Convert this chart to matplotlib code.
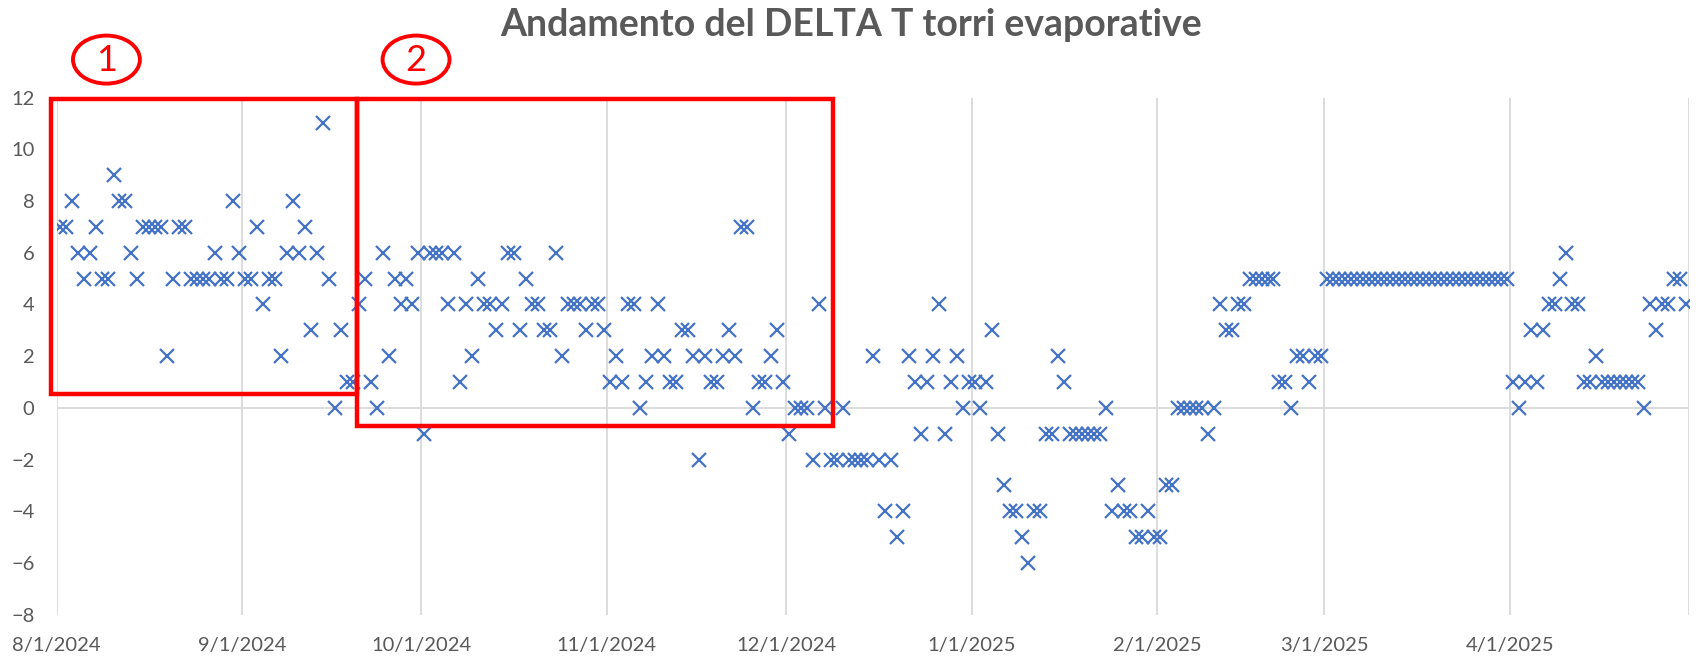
import matplotlib
matplotlib.use("Agg")
import matplotlib.pyplot as plt
import matplotlib.dates as mdates
from matplotlib.patches import Ellipse, Rectangle
import pandas as pd

# daily DELTA T readings, one value per day from 1 Aug 2024
start_date = "2024-08-01"
aug = [7, 7, 8, 6, 5, 6, 7, 5, 5, 9, 8, 8, 6, 5, 7, 7, 7, 7, 2, 5, 7, 7, 5, 5, 5, 5, 6, 5, 5, 8, 6]
sep = [5, 5, 7, 4, 5, 5, 2, 6, 8, 6, 7, 3, 6, 11, 5, 0, 3, 1, 1, 4, 5, 1, 0, 6, 2, 5, 4, 5, 4, 6]
oct_ = [-1, 6, 6, 6, 4, 6, 1, 4, 2, 5, 4, 4, 3, 4, 6, 6, 3, 5, 4, 4, 3, 3, 6, 2, 4, 4, 4, 3, 4, 4, 3]
nov = [1, 2, 1, 4, 4, 0, 1, 2, 4, 2, 1, 1, 3, 3, 2, -2, 2, 1, 1, 2, 3, 2, 7, 7, 0, 1, 1, 2, 3, 1]
dec = [-1, 0, 0, 0, -2, 4, 0, -2, -2, 0, -2, -2, -2, -2, 2, -2, -4, -2, -5, -4, 2, 1, -1, 1, 2, 4, -1, 1, 2, 0, 1]
jan = [1, 0, 1, 3, -1, -3, -4, -4, -5, -6, -4, -4, -1, -1, 2, 1, -1, -1, -1, -1, -1, -1, 0, -4, -3, -4, -4, -5, -5, -4, -5]
feb = [-5, -3, -3, 0, 0, 0, 0, 0, -1, 0, 4, 3, 3, 4, 4, 5, 5, 5, 5, 5, 1, 1, 0, 2, 2, 1, 2, 2]
mar = [5] * 31
apr = [1, 0, 1, 3, 1, 3, 4, 4, 5, 6, 4, 4, 1, 1, 2, 1, 1, 1, 1, 1, 1, 1, 0, 4, 3, 4, 4, 5, 5, 4]

delta_t = aug + sep + oct_ + nov + dec + jan + feb + mar + apr
dates = pd.date_range(start_date, periods=len(delta_t), freq="D")

month_starts = pd.date_range("2024-08-01", "2025-05-01", freq="MS")
month_labels = [f"{d.month}/{d.day}/{d.year}" for d in month_starts[:-1]] + [""]
y_ticks = list(range(-8, 13, 2))

# hand-drawn highlight boxes (date from, date to, value low, value high)
box1 = ("2024-07-31 01:00", "2024-09-20 07:00", 0.55, 11.95)
box2 = ("2024-09-20 07:00", "2024-12-08 19:00", -0.7, 11.95)

title = "Andamento del DELTA T torri evaporative"
grey = "#595959"
blue = "#4472C4"

plt.rcParams["font.family"] = ["Lato", "DejaVu Sans"]

fig = plt.figure(figsize=(17.03, 6.62), dpi=100)
ax = fig.add_axes([0.0333, 0.0715, 0.9585, 0.781])

# Excel date axis places each day's point in the middle of its day
x = dates + pd.Timedelta(hours=12)
ax.plot(x, delta_t, linestyle="none", marker="x", color=blue,
        markersize=9.5, markeredgewidth=1.6, zorder=3)

ax.set_xlim(month_starts[0], month_starts[-1])
ax.set_ylim(-8, 12)
ax.set_xticks(month_starts)
ax.set_xticklabels(month_labels)
ax.set_yticks(y_ticks)
ax.grid(axis="x", color="#D9D9D9", linewidth=1.3)
ax.axhline(0, color="#D9D9D9", linewidth=1.3, zorder=1)
for s in ax.spines.values():
    s.set_visible(False)
ax.tick_params(axis="both", length=0, labelsize=14.5, colors=grey)
ax.tick_params(axis="x", pad=16)
ax.tick_params(axis="y", pad=16)

fig.text(0.5, 0.962, title, ha="center", va="center",
         fontsize=27, fontweight="bold", color=grey)

for b in (box1, box2):
    x0 = mdates.date2num(pd.Timestamp(b[0]))
    x1 = mdates.date2num(pd.Timestamp(b[1]))
    ax.add_patch(Rectangle((x0, b[2]), x1 - x0, b[3] - b[2], fill=False,
                           edgecolor="red", linewidth=3.2, clip_on=False, zorder=4))

for label, cx in (("1", 0.0625), ("2", 0.2443)):
    fig.patches.append(Ellipse((cx, 0.91), 0.0393, 0.0725, transform=fig.transFigure,
                               fill=False, edgecolor="red", linewidth=2.8))
    fig.text(cx, 0.908, label, ha="center", va="center", fontsize=26, color="red")

fig.savefig("out.png", dpi=100)
